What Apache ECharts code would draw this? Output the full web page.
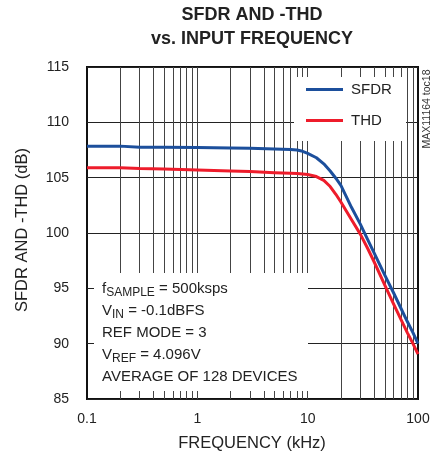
<!DOCTYPE html>
<html>
<head>
<meta charset="utf-8">
<script src="https://cdn.jsdelivr.net/npm/echarts@6/dist/echarts.min.js"></script>
<style>
html,body{margin:0;padding:0;background:#fff;}
#chart{width:434px;height:457px;}
</style>
</head>
<body>
<div id="chart"></div>
<script>
// Data
const freqKHz = [0.1, 0.2, 0.3, 0.5, 1, 2, 3, 5, 7, 8, 9, 10, 12, 14, 16, 18, 20, 25, 30, 35, 40, 50, 60, 70, 80, 90, 100];
const sfdrDb  = [107.85, 107.85, 107.75, 107.75, 107.72, 107.68, 107.65, 107.6, 107.55, 107.5, 107.38, 107.2, 106.8, 106.25, 105.6, 104.95, 104.3, 102.3, 100.8, 99.4, 98.2, 96.2, 94.6, 93.2, 92.0, 91.0, 90.0];
const thdDb   = [105.9, 105.9, 105.82, 105.78, 105.7, 105.6, 105.55, 105.45, 105.4, 105.38, 105.33, 105.28, 105.1, 104.75, 104.2, 103.5, 102.8, 101.2, 99.9, 98.6, 97.4, 95.3, 93.6, 92.2, 91.0, 90.0, 89.05];
const seriesNames = ['SFDR', 'THD'];
const xTickLabels = ['0.1', '1', '10', '100'];
const yTicks = [85, 90, 95, 100, 105, 110, 115];
const logGridFreqs = [0.2,0.3,0.4,0.5,0.6,0.7,0.8,0.9,1,2,3,4,5,6,7,8,9,10,20,30,40,50,60,70,80,90];
const titleLines = ['SFDR AND -THD', 'vs. INPUT FREQUENCY'];
const xTitle = 'FREQUENCY (kHz)';
const yTitle = 'SFDR AND -THD (dB)';
const sideNote = 'MAX11164 toc18';

const FONT = '"Liberation Sans", Arial, sans-serif';
const chart = echarts.init(document.getElementById('chart'), null, {renderer: 'canvas'});

const pairs = (vals) => freqKHz.map((f, i) => [f, vals[i]]);

const noteLines = [
  '{a|f}{s|SAMPLE}{a| = 500ksps}',
  '{a|V}{s|IN}{a| = -0.1dBFS}',
  '{a|REF MODE = 3}',
  '{a|V}{s|REF}{a| = 4.096V}',
  '{a|AVERAGE OF 128 DEVICES}'
];
const noteRich = {
  a: {fontSize: 15, fontFamily: FONT, fill: '#222', color: '#222'},
  s: {fontSize: 12, fontFamily: FONT, fill: '#222', color: '#222', padding: [8, 0, 0, 0]}
};

const graphics = [
  // white boxes behind legend and annotation (cover gridlines)
  {type: 'rect', z: 8, shape: {x: 294, y: 77, width: 112, height: 64}, style: {fill: '#fff'}},
  {type: 'rect', z: 8, shape: {x: 94, y: 273, width: 214, height: 118}, style: {fill: '#fff'}},
  // title
  {type: 'text', z: 12, x: 252, y: 15, style: {text: titleLines[0], font: 'bold 18px ' + FONT, fill: '#222', textAlign: 'center', textVerticalAlign: 'middle'}},
  {type: 'text', z: 12, x: 252, y: 39, style: {text: titleLines[1], font: 'bold 18px ' + FONT, fill: '#222', textAlign: 'center', textVerticalAlign: 'middle'}},
  // axis titles
  {type: 'text', z: 12, x: 252, y: 443, style: {text: xTitle, font: '16.5px ' + FONT, fill: '#222', textAlign: 'center', textVerticalAlign: 'middle'}},
  {type: 'text', z: 12, x: 22, y: 230, rotation: Math.PI / 2, style: {text: yTitle, font: '16.5px ' + FONT, fill: '#222', textAlign: 'center', textVerticalAlign: 'middle'}},
  // side note
  {type: 'text', z: 12, x: 427, y: 109, rotation: Math.PI / 2, style: {text: sideNote, font: '10.5px ' + FONT, fill: '#333', textAlign: 'center', textVerticalAlign: 'middle'}}
];
const noteCenters = [289, 311, 333, 355, 377];
noteLines.forEach((t, i) => {
  graphics.push({type: 'text', z: 12, x: 102, y: noteCenters[i],
    style: {text: t, rich: noteRich, textAlign: 'left', textVerticalAlign: 'middle', verticalAlign: 'middle'}});
});

const option = {
  animation: false,
  backgroundColor: '#fff',
  grid: {left: 87, right: 16, top: 67, bottom: 58, show: true, borderColor: '#111', borderWidth: 2, backgroundColor: 'transparent'},
  legend: {
    data: seriesNames.map(n => ({name: n, icon: 'rect'})),
    orient: 'vertical', left: 306, top: 82, padding: 0,
    itemWidth: 37, itemHeight: 3, itemGap: 16, z: 12,
    textStyle: {fontSize: 15, fontFamily: FONT, color: '#222', padding: [0, 0, 0, 3]}
  },
  xAxis: {
    type: 'log', logBase: 10, min: 0.1, max: 100,
    axisLine: {show: false}, axisTick: {show: false},
    splitLine: {show: false}, minorSplitLine: {show: false},
    axisLabel: {
      fontSize: 14, fontFamily: FONT, color: '#222', margin: 13,
      formatter: (v) => {
        const k = Math.round(Math.log10(v)) + 1;
        return xTickLabels[k] !== undefined ? xTickLabels[k] : '';
      }
    }
  },
  yAxis: {
    type: 'value', min: yTicks[0], max: yTicks[yTicks.length - 1], interval: 5,
    axisLine: {show: false}, axisTick: {show: false},
    splitLine: {show: true, lineStyle: {color: '#222', width: 1}},
    axisLabel: {fontSize: 14, fontFamily: FONT, color: '#222', margin: 18}
  },
  series: [
    {
      name: '_grid', type: 'line', data: [[0.1, 85]], showSymbol: false, silent: true,
      lineStyle: {opacity: 0}, z: 1,
      markLine: {
        silent: true, symbol: ['none', 'none'], z: 1, animation: false,
        label: {show: false},
        lineStyle: {color: '#444', width: 1, type: 'solid'},
        emphasis: {disabled: true},
        data: logGridFreqs.map(f => ({xAxis: f}))
      }
    },
    {
      name: seriesNames[0], type: 'line', data: pairs(sfdrDb), showSymbol: false, symbol: 'none',
      z: 10, lineStyle: {color: '#1c4f9c', width: 3, join: 'round'}, itemStyle: {color: '#1c4f9c'}
    },
    {
      name: seriesNames[1], type: 'line', data: pairs(thdDb), showSymbol: false, symbol: 'none',
      z: 9, lineStyle: {color: '#ee1c2b', width: 3, join: 'round'}, itemStyle: {color: '#ee1c2b'}
    }
  ],
  graphic: {elements: graphics}
};
chart.setOption(option);
</script>
</body>
</html>
